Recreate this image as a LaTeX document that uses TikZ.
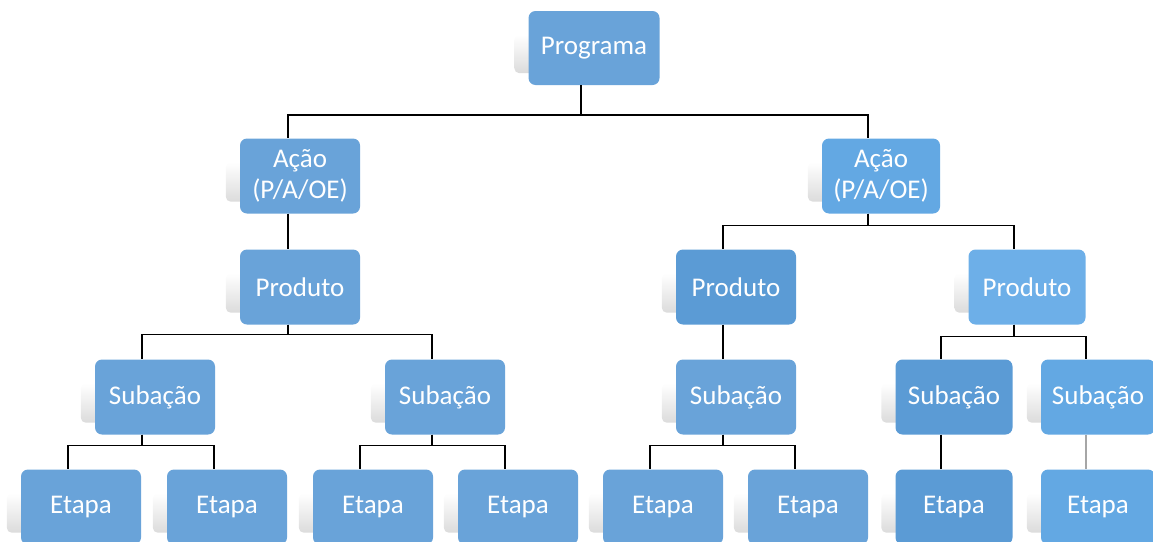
\documentclass[tikz,border=0pt]{standalone}
\usepackage{fontspec}
\setmainfont{Carlito}
\usepackage{tikz}
\usetikzlibrary{shapes, positioning, backgrounds}
\definecolor{boxblue}{HTML}{69A3D9}
\definecolor{darkblue}{HTML}{5B9BD5}
\definecolor{lightblue}{HTML}{6DAFE8}
\definecolor{brightblue}{HTML}{63A8E3}
\tikzstyle{bnode} = [rectangle, rounded corners=7pt, fill=boxblue, text=white, minimum width=120pt, minimum height=75pt, inner sep=2pt, align=center, font=\fontsize{27}{31}\selectfont]
\tikzstyle{line} = [draw, line width=1.5pt]
\tikzstyle{fade} = [draw=black!35, line width=1.5pt]

\begin{document}
\begin{tikzpicture}[x=1pt, y=-1pt]
			\useasboundingbox (0,0) rectangle (1153,541);
			\node [bnode, minimum width=131pt, minimum height=74pt] (prog) at (594, 48) {Programa};
			\node [bnode] (acaoL) at (300, 176) {Ação\\(P/A/OE)};
			\node [bnode, fill=brightblue, minimum width=118pt] (acaoR) at (881, 176) {Ação\\(P/A/OE)};
			\node [bnode] (prodL) at (300, 287) {Produto};
			\node [bnode, fill=darkblue] (prodM) at (736, 287) {Produto};
			\node [bnode, fill=lightblue, minimum width=117pt] (prodR) at (1027, 287) {Produto};
			\node [bnode] (subA) at (155, 397) {Subação};
			\node [bnode] (subB) at (445, 397) {Subação};
			\node [bnode] (subC) at (736, 397) {Subação};
			\node [bnode, fill=darkblue, minimum width=117pt] (subD) at (954, 397) {Subação};
			\node [bnode, fill=brightblue, minimum width=114pt] (subE) at (1098, 397) {Subação};
			\node [bnode] (etA) at (81, 507) {Etapa};
			\node [bnode] (etB) at (227, 507) {Etapa};
			\node [bnode] (etC) at (373, 507) {Etapa};
			\node [bnode] (etD) at (518, 507) {Etapa};
			\node [bnode] (etE) at (663, 507) {Etapa};
			\node [bnode] (etF) at (808, 507) {Etapa};
			\node [bnode, fill=darkblue, minimum width=117pt] (etG) at (954, 507) {Etapa};
			\node [bnode, fill=brightblue, minimum width=114pt] (etH) at (1098, 507) {Etapa};
			
			\begin{pgfonlayer}{background}
			\foreach \n in {prog, acaoL, acaoR, prodL, prodM, prodR, subA, subB, subC, subD, subE, etA, etB, etC, etD, etE, etF, etG, etH}
				\shade [top color=white, bottom color=black!14, rounded corners=5pt] ([xshift=-14pt, yshift=-24pt]\n.north west) rectangle ([yshift=12pt]\n.south);
			\end{pgfonlayer}
			
			\path [line] ([xshift=-13pt]prog.south) -- ++(0,30) -| ([xshift=-12pt]acaoL.north);
			\path [line] ([xshift=-13pt]prog.south) -- ++(0,30) -| ([xshift=-13pt]acaoR.north);
			\path [line] ([xshift=-12pt]acaoL.south) -- ([xshift=-12pt]prodL.north);
			\path [line] ([xshift=-13pt]acaoR.south) -- ++(0,12) -| ([xshift=-13pt]prodM.north);
			\path [line] ([xshift=-13pt]acaoR.south) -- ++(0,12) -| ([xshift=-13pt]prodR.north);
			\path [line] ([xshift=-12pt]prodL.south) -- ++(0,10) -| ([xshift=-13pt]subA.north);
			\path [line] ([xshift=-12pt]prodL.south) -- ++(0,10) -| ([xshift=-13pt]subB.north);
			\path [line] ([xshift=-13pt]prodM.south) -- ([xshift=-13pt]subC.north);
			\path [line] ([xshift=-13pt]prodR.south) -- ++(0,12) -| ([xshift=-13pt]subD.north);
			\path [line] ([xshift=-13pt]prodR.south) -- ++(0,12) -| ([xshift=-12pt]subE.north);
			\path [line] ([xshift=-13pt]subA.south) -- ++(0,11) -| ([xshift=-13pt]etA.north);
			\path [line] ([xshift=-13pt]subA.south) -- ++(0,11) -| ([xshift=-13pt]etB.north);
			\path [line] ([xshift=-13pt]subB.south) -- ++(0,11) -| ([xshift=-13pt]etC.north);
			\path [line] ([xshift=-13pt]subB.south) -- ++(0,11) -| ([xshift=-13pt]etD.north);
			\path [line] ([xshift=-13pt]subC.south) -- ++(0,11) -| ([xshift=-13pt]etE.north);
			\path [line] ([xshift=-13pt]subC.south) -- ++(0,11) -| ([xshift=-13pt]etF.north);
			\path [line] ([xshift=-13pt]subD.south) -- ([xshift=-13pt]etG.north);
			\path [fade] ([xshift=-12pt]subE.south) -- ([xshift=-12pt]etH.north);
		\end{tikzpicture}
\end{document}
